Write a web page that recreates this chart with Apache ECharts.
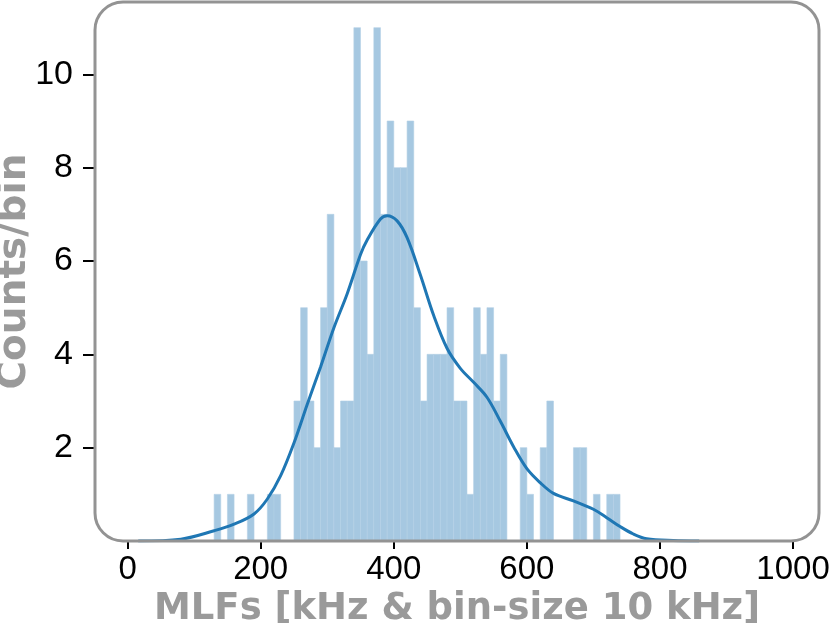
<!DOCTYPE html>
<html><head><meta charset="utf-8">
<script src="https://cdn.jsdelivr.net/npm/echarts@6/dist/echarts.min.js"></script>
<style>html,body{margin:0;padding:0;background:#fff}#c{width:831px;height:633px}</style>
</head><body><div id="c"></div>
<script>
// Histogram: bin starts (kHz), bin width 10 kHz, counts per bin
const binWidth = 10;
const binStarts = [130,150,180,210,220,250,260,270,280,290,300,310,320,330,340,350,360,370,380,390,400,410,420,430,440,450,460,470,480,490,500,510,520,530,540,550,560,590,600,620,630,670,680,700,720,730];
const binCounts = [1,1,1,1,1,3,5,3,2,5,7,2,3,3,11,6,4,11,7,9,8,8,9,5,3,4,4,4,5,3,3,1,5,4,5,3,4,2,1,2,3,2,2,1,1,1];
// KDE curve (scaled to counts/bin)
const kdeX = [16,80,130,160,190,210,230,250,270,290,310,330,350,360,380,390,405,420,440,460,480,500,520,540,560,580,600,620,640,670,700,720,740,760,780,820,859];
const kdeY = [0,0.04,0.22,0.36,0.58,0.9,1.4,2.1,2.93,3.73,4.57,5.3,6.14,6.45,6.9,6.97,6.86,6.5,5.7,4.83,4.13,3.7,3.4,3.08,2.57,2.02,1.55,1.25,1.02,0.86,0.68,0.5,0.31,0.15,0.05,0.01,0];
const xTicks = [0,200,400,600,800,1000];
const yTicks = [2,4,6,8,10];
const xName = 'MLFs [kHz & bin-size 10 kHz]';
const yName = 'Counts/bin';

const histData = binStarts.map((s,i)=>[s, s+binWidth, binCounts[i]]);
const kdeData = kdeX.map((x,i)=>[x, kdeY[i]]);

const chart = echarts.init(document.getElementById('c'));
const G = {left:95, right:12, top:2, bottom:92};
chart.setOption({
  animation:false,
  backgroundColor:'#fff',
  grid:{left:G.left, right:G.right, top:G.top, bottom:G.bottom, containLabel:false, outerBoundsMode:'none'},
  xAxis:{
    type:'value', min:-49, max:1039,
    name:xName, nameLocation:'middle', nameGap:50, nameMoveOverlap:false,
    nameTextStyle:{fontFamily:'DejaVu Sans', fontWeight:'bold', fontSize:37, color:'#9a9a9a'},
    axisLine:{show:false, onZero:false},
    splitLine:{show:false},
    axisTick:{show:true, customValues:xTicks, length:8, lineStyle:{color:'#000', width:2}},
    axisLabel:{customValues:xTicks, margin:12, fontFamily:'Liberation Sans', fontSize:33, color:'#000', formatter:v=>String(v)}
  },
  yAxis:{
    type:'value', min:0, max:11.55,
    name:yName, nameLocation:'middle', nameGap:61, nameRotate:90, nameMoveOverlap:false,
    nameTextStyle:{fontFamily:'DejaVu Sans', fontWeight:'bold', fontSize:39, color:'#9a9a9a'},
    axisLine:{show:false, onZero:false},
    splitLine:{show:false},
    axisTick:{show:true, customValues:yTicks, length:12, lineStyle:{color:'#000', width:2}},
    axisLabel:{customValues:yTicks, margin:22, fontFamily:'Liberation Sans', fontSize:34, color:'#000', formatter:v=>String(v)}
  },
  series:[
    {
      type:'custom',
      data:histData,
      encode:{x:[0,1], y:2},
      renderItem:function(params, api){
        const p0 = api.coord([api.value(0), 0]);
        const p1 = api.coord([api.value(1), api.value(2)]);
        return {type:'rect', shape:{x:p0[0], y:p1[1], width:p1[0]-p0[0], height:p0[1]-p1[1]},
          style:{fill:'#a6c8e1', stroke:'#b3d0e6', lineWidth:0.6}};
      },
      z:1
    },
    {
      type:'line', data:kdeData, smooth:0.35, showSymbol:false, symbol:'none',
      lineStyle:{color:'#1f77b4', width:3}, z:3
    }
  ],
  graphic:[{
    type:'rect', z:100, silent:true,
    shape:{x:G.left, y:G.top, width:831-G.left-G.right, height:633-G.top-G.bottom, r:28},
    style:{fill:'none', stroke:'#939393', lineWidth:3}
  }]
});
</script></body></html>
